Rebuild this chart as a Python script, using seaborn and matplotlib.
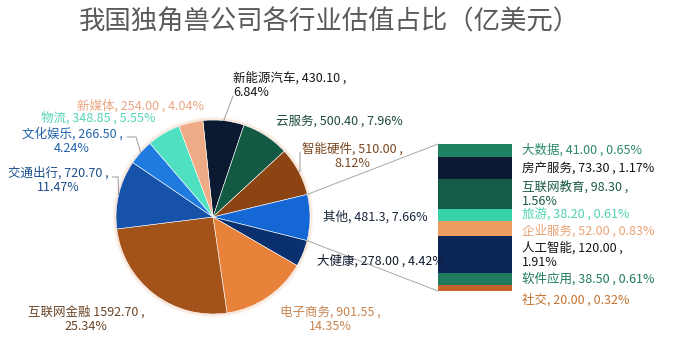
import numpy as np
import matplotlib
matplotlib.use("Agg")
import matplotlib.pyplot as plt
import seaborn as sns
from matplotlib.lines import Line2D
from matplotlib.patches import ConnectionPatch, Circle

# =========================
# DATA
# =========================

# pie slices, clockwise from the top
pie_names = ["新能源汽车", "云服务", "智能硬件", "其他", "大健康", "电子商务",
             "互联网金融", "交通出行", "文化娱乐", "物流", "新媒体"]
pie_values = [430.10, 500.40, 510.00, 481.30, 278.00, 901.55,
              1592.70, 720.70, 266.50, 348.85, 254.00]
pie_labels = ["新能源汽车, 430.10 ,\n6.84%", "云服务, 500.40 , 7.96%",
              "智能硬件, 510.00 ,\n8.12%", "其他, 481.3, 7.66%",
              "大健康, 278.00 , 4.42%", "电子商务, 901.55 ,\n14.35%",
              "互联网金融 1592.70 ,\n25.34%", "交通出行, 720.70 ,\n11.47%",
              "文化娱乐, 266.50 ,\n4.24%", "物流, 348.85 , 5.55%",
              "新媒体, 254.00 , 4.04%"]
pie_colors = ["#0b1a30", "#135a45", "#8c4512", "#1567d6", "#0b3070", "#e8823a",
              "#a3521a", "#1552a8", "#1f7be0", "#4fe0c2", "#eeab85"]
pie_text_colors = ["#151515", "#1c4a3c", "#7a4520", "#18263a", "#101a2c", "#c98450",
                   "#6b4426", "#1b4f8c", "#2062aa", "#55d6b8", "#e9a682"]

# breakdown of "其他", top to bottom
other_names = ["大数据", "房产服务", "互联网教育", "旅游", "企业服务",
               "人工智能", "软件应用", "社交"]
other_values = [41.00, 73.30, 98.30, 38.20, 52.00, 120.00, 38.50, 20.00]
other_labels = ["大数据, 41.00 , 0.65%", "房产服务, 73.30 , 1.17%",
                "互联网教育, 98.30 ,\n1.56%", "旅游, 38.20 , 0.61%",
                "企业服务, 52.00 , 0.83%", "人工智能, 120.00 ,\n1.91%",
                "软件应用, 38.50 , 0.61%", "社交, 20.00 , 0.32%"]
other_colors = ["#1f8262", "#0b1a33", "#145c47", "#38d2aa", "#ee9b62",
                "#0c2558", "#1e7b5d", "#c4642a"]
other_text_colors = ["#2a8a6a", "#151515", "#1a5a45", "#4fd2b2", "#eaa272",
                     "#151515", "#1f7a5c", "#c4722e"]

# =========================
# FIGURE
# =========================

sns.set_theme(style="white")
plt.rcParams['font.family'] = ['Noto Sans CJK SC', 'DejaVu Sans']

W, H = 695, 360
fig = plt.figure(figsize=(W / 100, H / 100), dpi=100)
fig.patch.set_facecolor("white")


def fx(px):
    return px / W


def fy(py):
    return 1 - py / H


fig.text(fx(329), fy(22), "我国独角兽公司各行业估值占比（亿美元）",
         ha="center", va="center", fontsize=19, color="#5a5a5a")

# =========================
# PIE
# =========================

cx, cy, R = 213, 217, 97
ax_pie = fig.add_axes([fx(cx - 100), fy(cy + 100), 200 / W, 200 / H])
# soft halo behind the pie
for r, a in [(1.035, 0.10), (1.018, 0.18)]:
    ax_pie.add_patch(Circle((0, 0), r, facecolor="#e9a070", edgecolor="none",
                            alpha=a, zorder=0))
wedges, _ = ax_pie.pie(pie_values, colors=pie_colors, startangle=96,
                       counterclock=False, radius=1,
                       wedgeprops=dict(edgecolor="white", linewidth=0.4))
lim = 100 / R
ax_pie.set_xlim(-lim, lim)
ax_pie.set_ylim(-lim, lim)
ax_pie.set_aspect("equal")
ax_pie.axis("off")

# label positions in pixels (x, y, ha)
pie_label_pos = {
    "新能源汽车": (233, 85, "left"),
    "云服务": (276, 121, "left"),
    "智能硬件": (352, 156, "center"),
    "其他": (323, 217, "left"),
    "大健康": (317, 261, "left"),
    "电子商务": (330, 319, "center"),
    "互联网金融": (86, 319, "center"),
    "交通出行": (58, 180, "center"),
    "文化娱乐": (72, 141, "center"),
    "物流": (41, 118, "left"),
    "新媒体": (77, 106, "left"),
}

for name, label, tc in zip(pie_names, pie_labels, pie_text_colors):
    x, y, ha = pie_label_pos[name]
    fig.text(fx(x), fy(y), label, ha=ha, va="center", fontsize=9,
             fontweight="medium", color=tc, multialignment=ha, linespacing=1.15)


def rim_px(w):
    a = np.deg2rad((w.theta1 + w.theta2) / 2)
    return cx + R * np.cos(a), cy - R * np.sin(a)


# leader lines (pixels)
leaders = {
    "新能源汽车": [(233, 96)],
    "智能硬件": [(300, 171), (300, 152)],
    "交通出行": [(118, 177), (112, 177)],
    "文化娱乐": [(136, 137), (127, 137)],
}
for name, pts in leaders.items():
    w = wedges[pie_names.index(name)]
    path = [rim_px(w)] + pts
    fig.add_artist(Line2D([fx(p[0]) for p in path], [fy(p[1]) for p in path],
                          transform=fig.transFigure, color="#9a9a9a", lw=0.7))

# =========================
# STACKED BAR
# =========================

bx0, bx1, by0, by1 = 438, 512, 144, 291
ax_bar = fig.add_axes([fx(bx0), fy(by1), (bx1 - bx0) / W, (by1 - by0) / H])

tops = np.cumsum(other_values[::-1])[::-1]
for top, c in zip(tops, other_colors):
    sns.barplot(x=[0], y=[top], color=c, width=1, saturation=1, ax=ax_bar,
                linewidth=0)
total = tops[0]
ax_bar.set_xlim(-0.5, 0.5)
ax_bar.set_ylim(0, total)
ax_bar.axis("off")

centers = tops - np.array(other_values) / 2
label_shift = {"企业服务": -1.5, "社交": -9}
trans = matplotlib.transforms.blended_transform_factory(ax_bar.transAxes, ax_bar.transData)
for name, label, tc, yc in zip(other_names, other_labels, other_text_colors, centers):
    ax_bar.annotate(label, xy=(1.13, yc), xycoords=trans,
                    xytext=(0, label_shift.get(name, 0)), textcoords="offset points",
                    ha="left", va="center", fontsize=9, fontweight="medium",
                    color=tc, linespacing=1.15, annotation_clip=False)

# connect "其他" wedge to the bar
w_other = wedges[pie_names.index("其他")]
for ang, yb in [(w_other.theta2, total), (w_other.theta1, 0)]:
    a = np.deg2rad(ang)
    con = ConnectionPatch(xyA=(np.cos(a), np.sin(a)), coordsA=ax_pie.transData,
                          xyB=(-0.5, yb), coordsB=ax_bar.transData,
                          color="#a8a8a8", lw=0.7)
    fig.add_artist(con)

fig.savefig("out.png", dpi=100, facecolor="white")
